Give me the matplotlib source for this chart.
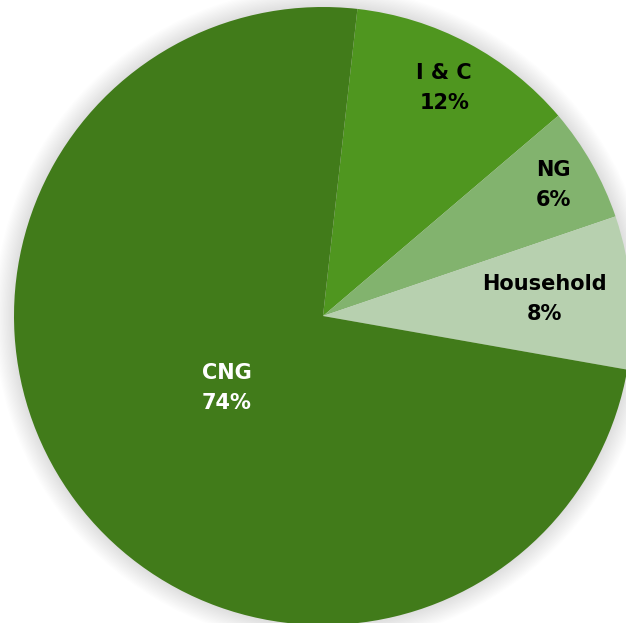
import numpy as np
import matplotlib.pyplot as plt
from matplotlib.patches import Circle

labels = ['I & C', 'NG', 'Household', 'CNG']
values = [12, 6, 8, 74]
colors = ['#4F961F', '#82B36E', '#B7D0AF', '#417B1A']
text_colors = ['black', 'black', 'black', 'white']
label_dist = [0.835, 0.857, 0.72, 0.39]

fig = plt.figure(figsize=(6.26, 6.23), dpi=100)
ax = fig.add_axes([0, 0, 1, 1])

# soft shadow behind the pie
for k in range(16):
    ax.add_patch(Circle((0, 0.0), 1.0 + 0.004 * (16 - k), color='#000000',
                        alpha=0.009, lw=0, zorder=0))

wedges, _ = ax.pie(values, colors=colors, startangle=83.6, counterclock=False,
                   radius=1.0, wedgeprops=dict(linewidth=0, zorder=1))

for w, lab, v, tc, d in zip(wedges, labels, values, text_colors, label_dist):
    ang = np.deg2rad((w.theta1 + w.theta2) / 2)
    ax.text(d * np.cos(ang), d * np.sin(ang), f'{lab}\n{v}%', ha='center', va='center',
            color=tc, fontsize=15, fontweight='bold', family='DejaVu Sans',
            linespacing=1.6, zorder=3)

ax.set_aspect('auto')
ax.set_xlim(-323 / 309, (626 - 323) / 309)
ax.set_ylim(-(623 - 316) / 309, 316 / 309)
ax.axis('off')
fig.savefig('out.png', dpi=100, facecolor='white')
